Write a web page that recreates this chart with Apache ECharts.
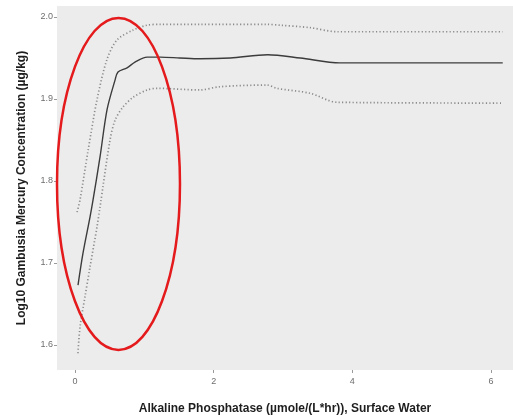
<!DOCTYPE html>
<html>
<head>
<meta charset="utf-8">
<script src="https://cdn.jsdelivr.net/npm/echarts@6/dist/echarts.min.js"></script>
<style>
  html, body { margin: 0; padding: 0; background: #ffffff; }
  #chart { width: 513px; height: 415px; }
</style>
</head>
<body>
<div id="chart"></div>
<script>
// Fitted mean curve: alkaline phosphatase vs log10 mercury concentration
const meanX = [0.043, 0.115, 0.216, 0.26, 0.36, 0.462, 0.577, 0.62, 0.75, 0.865, 1.04, 1.23, 1.51, 1.80, 2.24, 2.78, 3.25, 3.82, 6.17];
const meanY = [1.673, 1.712, 1.756, 1.777, 1.829, 1.887, 1.923, 1.933, 1.938, 1.945, 1.951, 1.951, 1.950, 1.949, 1.950, 1.954, 1.950, 1.944, 1.944];

// Upper confidence bound
const upperX = [0.03, 0.072, 0.19, 0.317, 0.46, 0.606, 0.837, 1.04, 1.23, 1.80, 2.77, 2.96, 3.39, 3.78, 6.17];
const upperY = [1.762, 1.777, 1.838, 1.899, 1.948, 1.972, 1.984, 1.990, 1.991, 1.991, 1.991, 1.990, 1.987, 1.982, 1.982];

// Lower confidence bound
const lowerX = [0.043, 0.072, 0.144, 0.216, 0.317, 0.36, 0.505, 0.577, 0.69, 0.837, 1.04, 1.18, 1.80, 2.09, 2.77, 2.91, 3.39, 3.78, 6.17];
const lowerY = [1.590, 1.622, 1.659, 1.695, 1.744, 1.768, 1.850, 1.874, 1.890, 1.902, 1.911, 1.913, 1.911, 1.915, 1.917, 1.913, 1.907, 1.896, 1.895];

const xTicks = [0, 2, 4, 6];
const yTicks = [1.6, 1.7, 1.8, 1.9, 2.0];

const pairs = (xs, ys) => xs.map((x, i) => [x, ys[i]]);

const chart = echarts.init(document.getElementById('chart'), null, { renderer: 'canvas' });

const tickLabel = { color: '#6e6e6e', fontSize: 9, fontFamily: 'Liberation Sans, Arial, sans-serif' };
const titleStyle = { color: '#1e1e1e', fontSize: 12, fontWeight: 'bold', fontFamily: 'Liberation Sans, Arial, sans-serif' };

chart.setOption({
  animation: false,
  backgroundColor: '#ffffff',
  grid: {
    left: 57, top: 6, width: 456, bottom: 45,
    containLabel: false, outerBoundsMode: 'none',
    show: true, backgroundColor: '#ececec', borderWidth: 0
  },
  xAxis: {
    type: 'value',
    min: -0.26, max: 6.318,
    name: 'Alkaline Phosphatase (µmole/(L*hr)), Surface Water',
    nameLocation: 'middle', nameGap: 33,
    nameTextStyle: titleStyle,
    axisLine: { show: false, onZero: false },
    splitLine: { show: false },
    axisTick: { show: true, length: 3, customValues: xTicks, lineStyle: { color: '#9a9a9a' } },
    axisLabel: Object.assign({ customValues: xTicks, margin: 7, formatter: v => String(v) }, tickLabel)
  },
  yAxis: {
    type: 'value',
    min: 1.5695, max: 2.0134,
    name: 'Log10 Gambusia Mercury Concentration (µg/kg)',
    nameLocation: 'middle', nameGap: 29,
    nameTextStyle: titleStyle,
    axisLine: { show: false, onZero: false },
    splitLine: { show: false },
    axisTick: { show: true, length: 3, customValues: yTicks, lineStyle: { color: '#9a9a9a' } },
    axisLabel: Object.assign({ customValues: yTicks, margin: 4, formatter: v => v.toFixed(1) }, tickLabel)
  },
  series: [
    {
      name: 'Upper', type: 'line', data: pairs(upperX, upperY),
      showSymbol: false, smooth: 0.3,
      lineStyle: { color: '#8a8a8a', width: 1.7, type: [1.2, 2.3] }
    },
    {
      name: 'Lower', type: 'line', data: pairs(lowerX, lowerY),
      showSymbol: false, smooth: 0.3,
      lineStyle: { color: '#8a8a8a', width: 1.7, type: [1.2, 2.3] }
    },
    {
      name: 'Mean', type: 'line', data: pairs(meanX, meanY),
      showSymbol: false, smooth: 0.3,
      lineStyle: { color: '#3c3c3c', width: 1.4 }
    }
  ]
});

// Red highlight ellipse around the steep rise, bounded in data units
const ringBox = { x0: -0.26, x1: 1.514, y0: 1.594, y1: 1.9988 };
const p0 = chart.convertToPixel({ gridIndex: 0 }, [ringBox.x0, ringBox.y1]);
const p1 = chart.convertToPixel({ gridIndex: 0 }, [ringBox.x1, ringBox.y0]);
chart.setOption({
  graphic: [{
    type: 'ellipse',
    z: 100,
    shape: {
      cx: (p0[0] + p1[0]) / 2,
      cy: (p0[1] + p1[1]) / 2,
      rx: (p1[0] - p0[0]) / 2,
      ry: (p1[1] - p0[1]) / 2
    },
    style: { fill: 'none', stroke: '#e41a1c', lineWidth: 2.5 }
  }]
});
</script>
</body>
</html>
